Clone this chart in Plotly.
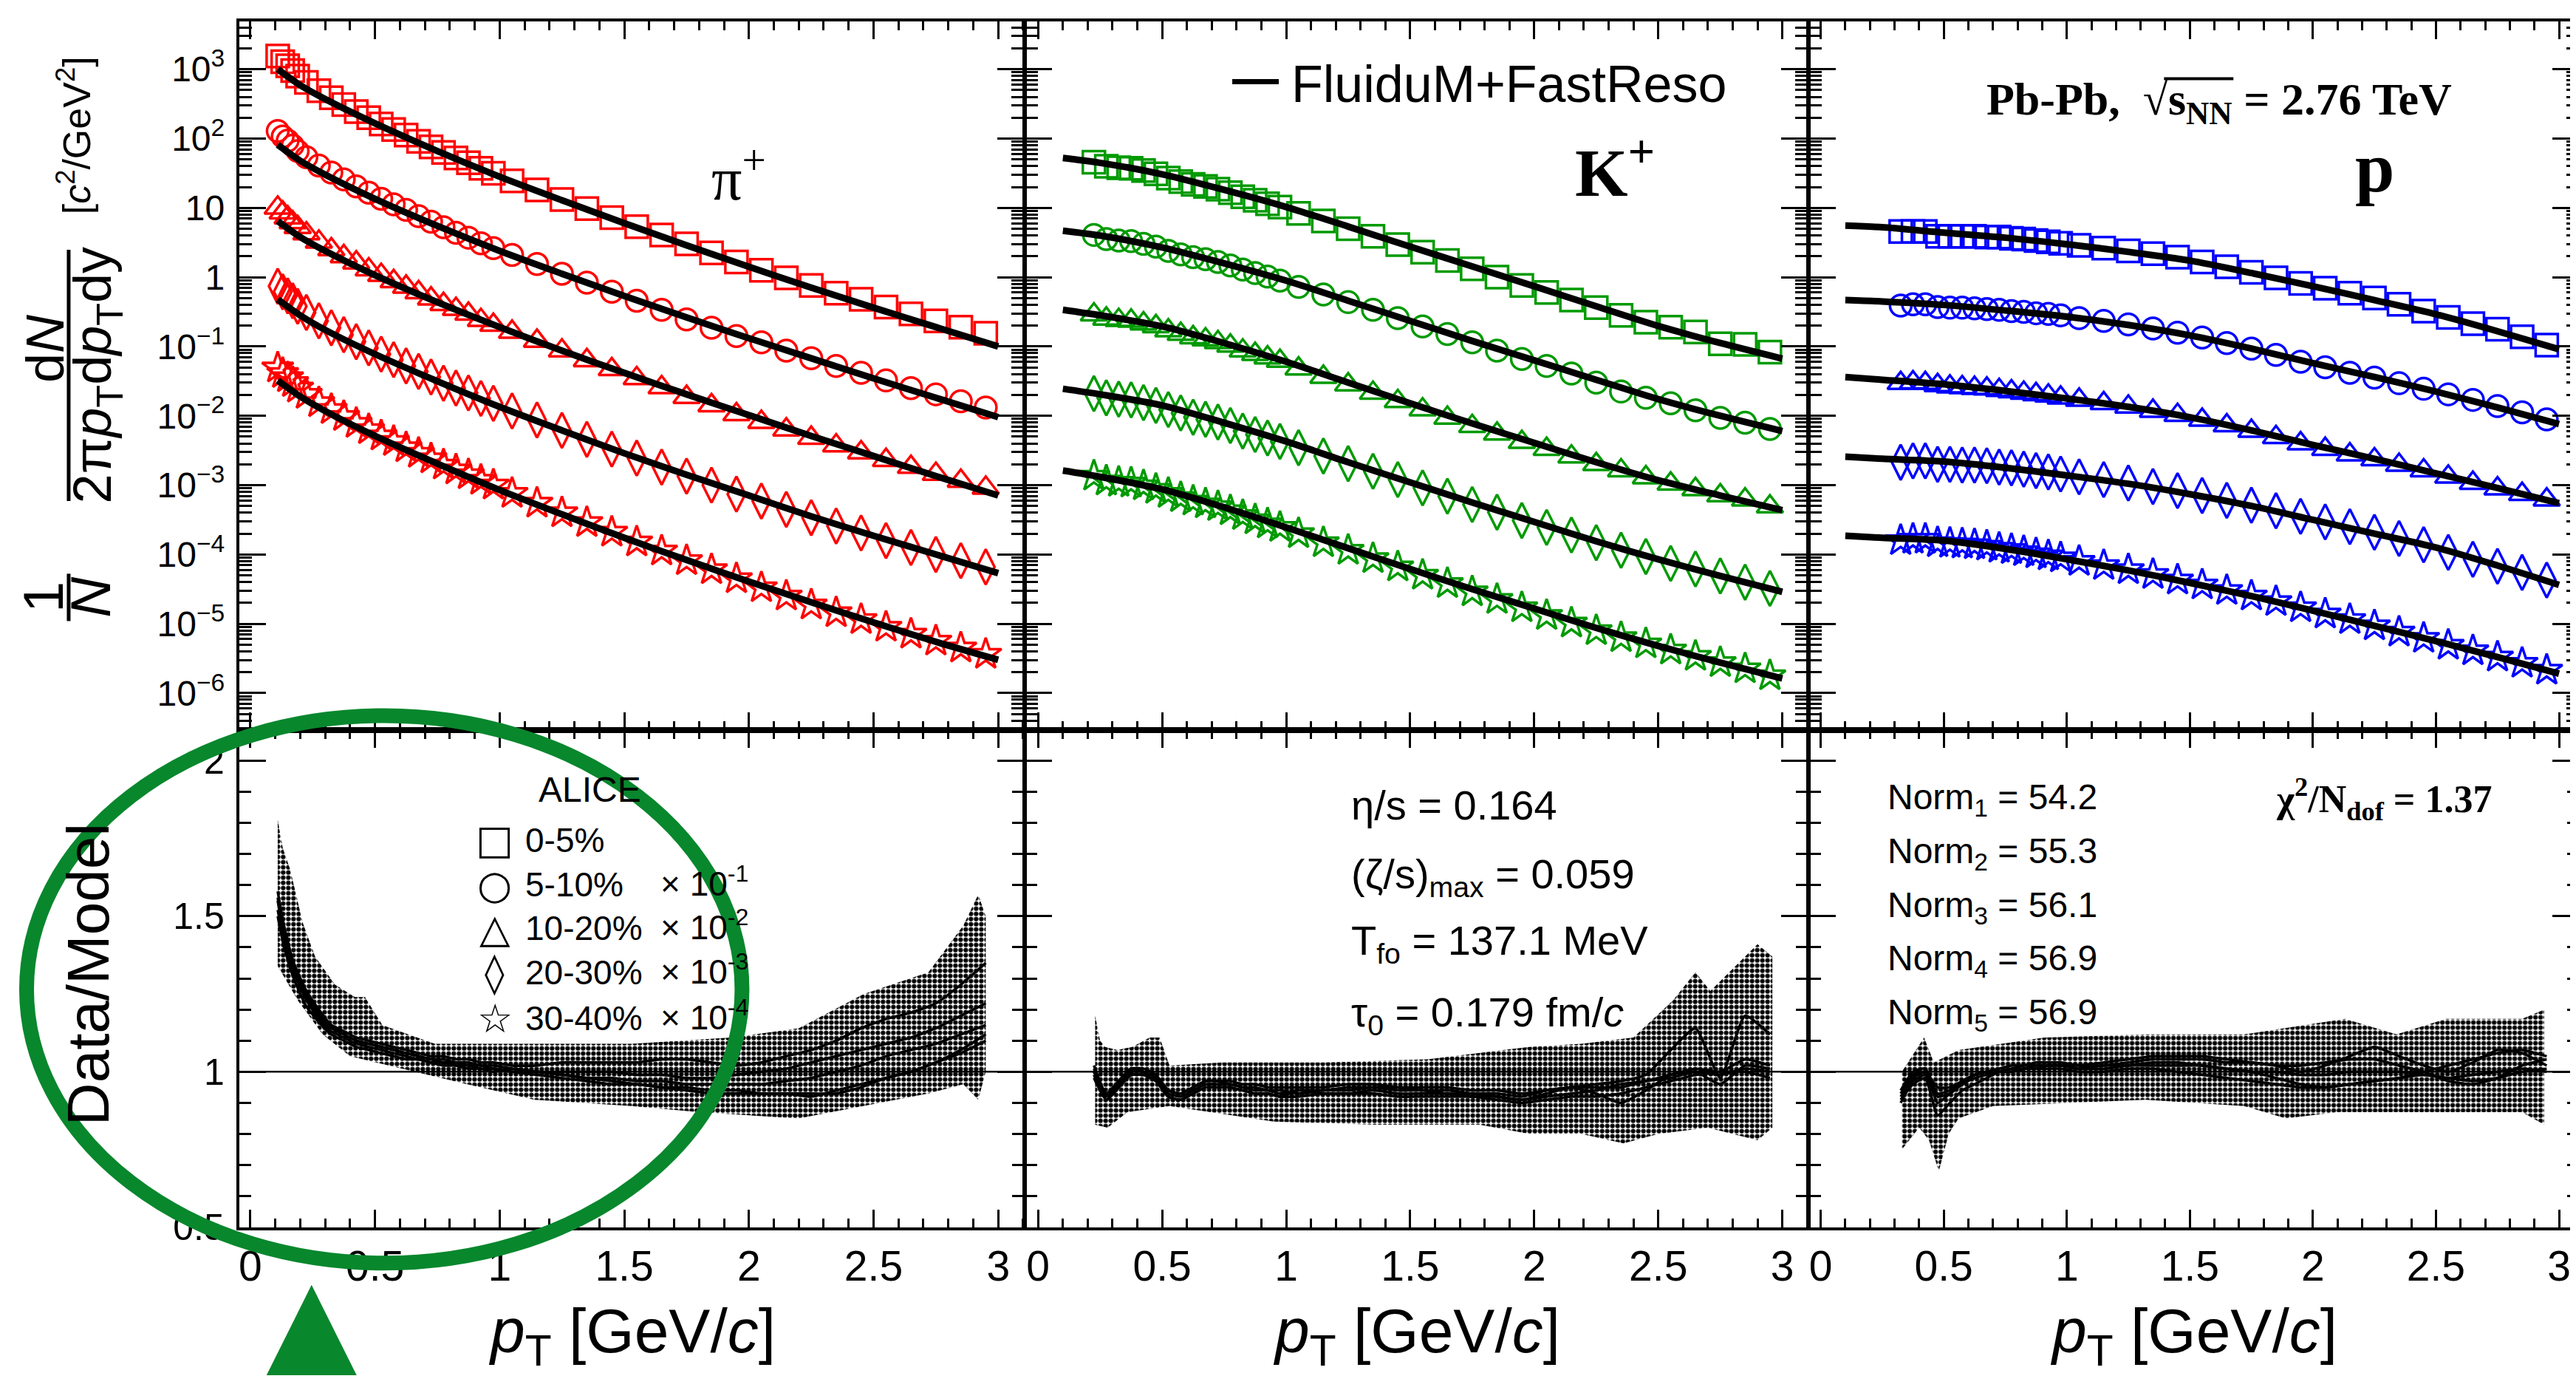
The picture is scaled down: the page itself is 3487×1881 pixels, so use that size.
import plotly.graph_objects as go

W, H = 3487, 1881
def PX(x): return x / W
def PY(y): return 1 - y / H

# ---------------- data (log10 of invariant yield) ----------------
pi_pt = [0.11,0.13,0.15,0.17,0.19,0.225,0.275,0.325,0.375,0.425,0.475,0.525,0.575,0.625,0.675,0.725,0.775,0.825,0.875,0.925,0.975,
         1.05,1.15,1.25,1.35,1.45,1.55,1.65,1.75,1.85,1.95,2.05,2.15,2.25,2.35,2.45,2.55,2.65,2.75,2.85,2.95]
k_pt = [0.225,0.275,0.325,0.375,0.425,0.475,0.525,0.575,0.625,0.675,0.725,0.775,0.825,0.875,0.925,0.975,
        1.05,1.15,1.25,1.35,1.45,1.55,1.65,1.75,1.85,1.95,2.05,2.15,2.25,2.35,2.45,2.55,2.65,2.75,2.85,2.95]
p_pt = [0.325,0.375,0.425,0.475,0.525,0.575,0.625,0.675,0.725,0.775,0.825,0.875,0.925,0.975,
        1.05,1.15,1.25,1.35,1.45,1.55,1.65,1.75,1.85,1.95,2.05,2.15,2.25,2.35,2.45,2.55,2.65,2.75,2.85,2.95]

pi_d1 = [3.19,3.11,3.05,2.98,2.90,2.81,2.69,2.59,2.49,2.39,2.30,2.21,2.13,2.05,1.96,1.88,1.80,1.72,1.65,1.57,1.50,1.39,1.26,1.12,0.99,0.86,0.73,0.61,0.48,0.35,0.22,0.10,-0.01,-0.12,-0.23,-0.32,-0.43,-0.53,-0.63,-0.72,-0.81]
pi_d2 = [2.11,2.03,1.97,1.90,1.82,1.73,1.61,1.51,1.41,1.31,1.22,1.13,1.05,0.97,0.88,0.80,0.72,0.64,0.57,0.49,0.42,0.32,0.19,0.05,-0.08,-0.21,-0.34,-0.47,-0.61,-0.73,-0.85,-0.94,-1.06,-1.17,-1.28,-1.38,-1.49,-1.60,-1.69,-1.79,-1.88]
pi_d3 = [1.00,0.93,0.86,0.79,0.72,0.63,0.51,0.40,0.30,0.21,0.11,0.03,-0.06,-0.14,-0.22,-0.31,-0.39,-0.46,-0.53,-0.62,-0.69,-0.79,-0.92,-1.06,-1.20,-1.33,-1.46,-1.59,-1.73,-1.85,-1.98,-2.09,-2.20,-2.32,-2.43,-2.53,-2.64,-2.74,-2.84,-2.94,-3.04]
pi_d4 = [-0.13,-0.21,-0.27,-0.34,-0.42,-0.51,-0.63,-0.73,-0.83,-0.93,-1.02,-1.11,-1.19,-1.28,-1.36,-1.44,-1.53,-1.60,-1.67,-1.75,-1.82,-1.93,-2.06,-2.21,-2.34,-2.48,-2.61,-2.74,-2.87,-3.00,-3.13,-3.23,-3.35,-3.47,-3.59,-3.69,-3.80,-3.90,-4.00,-4.09,-4.18]
pi_d5 = [-1.31,-1.39,-1.45,-1.52,-1.60,-1.69,-1.81,-1.91,-2.01,-2.11,-2.20,-2.29,-2.37,-2.46,-2.54,-2.62,-2.71,-2.78,-2.85,-2.93,-3.00,-3.12,-3.26,-3.40,-3.54,-3.68,-3.82,-3.95,-4.09,-4.22,-4.35,-4.48,-4.60,-4.73,-4.84,-4.94,-5.05,-5.15,-5.25,-5.35,-5.44]

k_d1 = [1.66,1.60,1.58,1.57,1.54,1.49,1.43,1.38,1.34,1.31,1.27,1.22,1.16,1.11,1.06,1.01,0.92,0.81,0.70,0.59,0.47,0.36,0.24,0.12,0.00,-0.12,-0.22,-0.33,-0.44,-0.55,-0.65,-0.72,-0.79,-0.96,-0.97,-1.08]
k_d2 = [0.61,0.55,0.53,0.52,0.48,0.44,0.38,0.33,0.29,0.26,0.22,0.17,0.11,0.06,0.01,-0.05,-0.14,-0.25,-0.36,-0.47,-0.59,-0.71,-0.82,-0.94,-1.06,-1.18,-1.28,-1.39,-1.52,-1.65,-1.74,-1.82,-1.92,-2.03,-2.10,-2.19]
k_d3 = [-0.54,-0.60,-0.62,-0.63,-0.67,-0.71,-0.77,-0.82,-0.87,-0.90,-0.94,-0.99,-1.06,-1.11,-1.16,-1.21,-1.32,-1.44,-1.55,-1.67,-1.79,-1.91,-2.03,-2.15,-2.26,-2.38,-2.48,-2.59,-2.70,-2.79,-2.89,-2.98,-3.06,-3.15,-3.21,-3.31]
k_d4 = [-1.68,-1.74,-1.76,-1.77,-1.81,-1.85,-1.91,-1.96,-2.02,-2.05,-2.09,-2.14,-2.22,-2.27,-2.32,-2.37,-2.46,-2.58,-2.69,-2.80,-2.92,-3.04,-3.16,-3.28,-3.39,-3.51,-3.61,-3.72,-3.83,-3.94,-4.03,-4.13,-4.21,-4.31,-4.40,-4.49]
k_d5 = [-2.87,-2.94,-2.96,-2.97,-3.01,-3.06,-3.12,-3.18,-3.23,-3.27,-3.31,-3.37,-3.44,-3.50,-3.56,-3.61,-3.70,-3.83,-3.94,-4.06,-4.18,-4.30,-4.42,-4.54,-4.65,-4.77,-4.88,-4.99,-5.10,-5.20,-5.29,-5.38,-5.47,-5.56,-5.65,-5.75]

p_d1 = [0.66,0.66,0.66,0.59,0.59,0.59,0.59,0.58,0.58,0.56,0.55,0.53,0.51,0.49,0.46,0.42,0.38,0.34,0.29,0.22,0.15,0.07,-0.01,-0.09,-0.16,-0.23,-0.30,-0.39,-0.49,-0.58,-0.67,-0.75,-0.86,-0.98]
p_d2 = [-0.41,-0.39,-0.39,-0.43,-0.44,-0.44,-0.45,-0.46,-0.47,-0.49,-0.50,-0.52,-0.53,-0.55,-0.59,-0.63,-0.68,-0.74,-0.80,-0.87,-0.95,-1.03,-1.12,-1.22,-1.30,-1.38,-1.45,-1.53,-1.61,-1.69,-1.77,-1.86,-1.95,-2.05]
p_d3 = [-1.53,-1.52,-1.53,-1.56,-1.58,-1.59,-1.60,-1.61,-1.63,-1.65,-1.67,-1.69,-1.71,-1.74,-1.77,-1.82,-1.87,-1.93,-1.99,-2.06,-2.14,-2.22,-2.31,-2.40,-2.48,-2.56,-2.63,-2.71,-2.79,-2.88,-2.97,-3.05,-3.13,-3.21]
p_d4 = [-2.67,-2.65,-2.65,-2.70,-2.70,-2.71,-2.71,-2.72,-2.74,-2.75,-2.77,-2.79,-2.81,-2.84,-2.88,-2.92,-2.97,-3.02,-3.08,-3.15,-3.22,-3.29,-3.37,-3.45,-3.53,-3.60,-3.68,-3.77,-3.86,-3.97,-4.07,-4.17,-4.26,-4.37]
p_d5 = [-3.80,-3.78,-3.78,-3.83,-3.84,-3.85,-3.86,-3.88,-3.91,-3.93,-3.96,-3.99,-4.02,-4.05,-4.10,-4.16,-4.22,-4.29,-4.37,-4.44,-4.52,-4.60,-4.68,-4.77,-4.86,-4.94,-5.03,-5.12,-5.21,-5.31,-5.39,-5.48,-5.57,-5.67]

# model curves (FluiduM+FastReso), log10 values at knots
pi_mpt = [0.11,0.2,0.3,0.5,0.75,1.0,1.25,1.5,1.75,2.0,2.25,2.5,2.75,3.0]
pi_m1 = [3.0,2.77,2.57,2.22,1.82,1.45,1.11,0.78,0.46,0.15,-0.15,-0.44,-0.72,-1.0]
pi_m2 = [1.91,1.68,1.48,1.13,0.74,0.38,0.05,-0.27,-0.58,-0.88,-1.17,-1.46,-1.74,-2.02]
pi_m3 = [0.81,0.58,0.38,0.03,-0.36,-0.72,-1.06,-1.38,-1.69,-1.99,-2.29,-2.58,-2.87,-3.15]
pi_m4 = [-0.32,-0.55,-0.76,-1.11,-1.50,-1.87,-2.21,-2.54,-2.85,-3.15,-3.45,-3.73,-4.00,-4.27]
pi_m5 = [-1.49,-1.72,-1.93,-2.29,-2.69,-3.07,-3.42,-3.76,-4.08,-4.39,-4.69,-4.98,-5.26,-5.52]

kp_mpt = [0.1,0.25,0.5,0.75,1.0,1.25,1.5,1.75,2.0,2.25,2.5,2.75,3.0]
k_m1 = [1.72,1.65,1.485,1.26,1.013,0.73,0.441,0.155,-0.131,-0.42,-0.704,-0.95,-1.175]
k_m2 = [0.67,0.60,0.43,0.20,-0.05,-0.34,-0.63,-0.92,-1.20,-1.48,-1.76,-2.0,-2.22]
k_m3 = [-0.47,-0.55,-0.71,-0.95,-1.22,-1.52,-1.82,-2.11,-2.39,-2.67,-2.93,-3.15,-3.36]
k_m4 = [-1.61,-1.69,-1.85,-2.10,-2.37,-2.67,-2.96,-3.25,-3.53,-3.81,-4.07,-4.31,-4.54]
k_m5 = [-2.79,-2.88,-3.06,-3.32,-3.61,-3.91,-4.21,-4.50,-4.78,-5.06,-5.32,-5.56,-5.79]

p_m1 = [0.744,0.72,0.643,0.57,0.475,0.365,0.239,0.06,-0.131,-0.33,-0.535,-0.78,-1.04]
p_m2 = [-0.33,-0.35,-0.40,-0.48,-0.57,-0.69,-0.84,-1.03,-1.24,-1.44,-1.65,-1.88,-2.12]
p_m3 = [-1.44,-1.48,-1.545,-1.64,-1.75,-1.87,-2.02,-2.21,-2.42,-2.62,-2.83,-3.04,-3.26]
p_m4 = [-2.59,-2.62,-2.66,-2.75,-2.86,-2.98,-3.13,-3.30,-3.50,-3.70,-3.90,-4.16,-4.44]
p_m5 = [-3.73,-3.76,-3.80,-3.92,-4.07,-4.23,-4.41,-4.60,-4.81,-5.03,-5.25,-5.48,-5.72]

# Data/Model ratios
pi_r1 = [1.58,1.49,1.42,1.36,1.32,1.26,1.20,1.15,1.13,1.11,1.10,1.09,1.08,1.07,1.06,1.05,1.05,1.04,1.04,1.03,1.03,1.02,1.02,1.03,1.03,1.03,1.03,1.04,1.04,1.03,1.02,1.03,1.05,1.07,1.10,1.14,1.17,1.19,1.22,1.28,1.35]
pi_r2 = [1.56,1.47,1.41,1.35,1.31,1.25,1.19,1.15,1.12,1.10,1.09,1.08,1.07,1.06,1.05,1.04,1.04,1.03,1.03,1.02,1.02,1.01,1.0,1.0,1.0,1.0,0.99,0.99,0.98,0.98,0.99,1.0,1.01,1.03,1.05,1.07,1.09,1.11,1.14,1.18,1.22]
pi_r3 = [1.55,1.46,1.40,1.34,1.30,1.24,1.18,1.14,1.12,1.10,1.09,1.08,1.07,1.06,1.05,1.04,1.03,1.03,1.02,1.02,1.01,1.0,1.0,0.99,0.98,0.98,0.97,0.97,0.96,0.96,0.96,0.96,0.97,0.98,1.0,1.02,1.05,1.07,1.09,1.12,1.15]
pi_r4 = [1.52,1.44,1.38,1.33,1.29,1.23,1.17,1.13,1.11,1.09,1.08,1.07,1.06,1.05,1.04,1.03,1.03,1.02,1.02,1.01,1.01,1.0,0.99,0.98,0.97,0.96,0.96,0.95,0.95,0.94,0.94,0.93,0.93,0.93,0.93,0.95,0.98,1.0,1.03,1.07,1.12]
pi_r5 = [1.50,1.42,1.36,1.31,1.27,1.21,1.16,1.12,1.10,1.08,1.07,1.06,1.05,1.04,1.04,1.03,1.02,1.02,1.01,1.01,1.00,1.01,1.0,0.99,0.98,0.97,0.96,0.95,0.94,0.93,0.93,0.93,0.93,0.92,0.94,0.96,0.98,1.0,1.03,1.06,1.10]

k_r1 = [1.02,0.93,0.97,1.01,1.01,0.99,0.94,0.93,0.95,0.97,0.97,0.96,0.95,0.95,0.94,0.94,0.93,0.94,0.94,0.95,0.94,0.94,0.93,0.93,0.92,0.91,0.93,0.95,0.96,0.97,0.99,1.07,1.14,0.98,1.18,1.12]
k_r2 = [1.0,0.92,0.96,1.0,1.0,0.98,0.93,0.92,0.94,0.96,0.96,0.96,0.95,0.94,0.94,0.93,0.94,0.94,0.95,0.95,0.95,0.94,0.94,0.93,0.93,0.92,0.94,0.95,0.93,0.90,0.94,0.99,1.0,0.96,1.02,1.01]
k_r3 = [0.98,0.91,0.95,0.99,0.99,0.97,0.92,0.91,0.93,0.95,0.95,0.95,0.94,0.93,0.93,0.92,0.92,0.93,0.93,0.94,0.93,0.93,0.93,0.92,0.92,0.91,0.92,0.93,0.94,0.96,0.97,0.99,1.01,1.0,1.04,1.02]
k_r4 = [1.01,0.93,0.97,1.01,1.0,0.98,0.94,0.93,0.95,0.97,0.97,0.97,0.96,0.96,0.95,0.95,0.95,0.95,0.96,0.96,0.95,0.95,0.95,0.94,0.94,0.93,0.94,0.95,0.95,0.95,0.97,0.98,1.0,0.99,1.01,1.0]
k_r5 = [0.99,0.91,0.95,0.99,0.99,0.97,0.92,0.91,0.93,0.95,0.95,0.95,0.94,0.93,0.93,0.92,0.94,0.93,0.93,0.93,0.92,0.92,0.92,0.92,0.91,0.90,0.91,0.92,0.92,0.93,0.95,0.97,0.99,1.0,1.0,0.98]

p_r1 = [0.91,0.96,0.98,0.86,0.90,0.94,0.96,0.98,1.0,1.0,1.01,1.01,1.02,1.02,1.02,1.03,1.04,1.05,1.05,1.05,1.04,1.03,1.02,1.0,1.02,1.05,1.08,1.05,1.02,1.0,1.03,1.07,1.06,1.02]
p_r2 = [0.90,0.97,0.99,0.92,0.93,0.96,0.98,0.99,1.0,1.01,1.02,1.02,1.02,1.02,1.01,1.02,1.02,1.03,1.03,1.02,1.01,1.0,0.98,0.96,0.95,0.96,0.97,0.98,1.0,1.02,1.04,1.06,1.07,1.05]
p_r3 = [0.93,0.99,1.0,0.95,0.95,0.97,0.99,1.0,1.0,1.0,1.01,1.01,1.01,1.01,1.0,1.0,1.01,1.01,1.0,0.99,0.98,0.97,0.96,0.95,0.95,0.96,0.97,0.98,0.99,0.98,0.97,0.98,1.0,1.01]
p_r4 = [0.92,0.98,1.0,0.90,0.93,0.96,0.99,1.0,1.01,1.02,1.02,1.03,1.03,1.03,1.02,1.02,1.03,1.04,1.04,1.04,1.03,1.03,1.02,1.02,1.03,1.04,1.04,1.02,1.0,0.97,0.96,0.98,1.02,1.04]
p_r5 = [0.94,1.0,1.01,0.93,0.94,0.97,0.99,1.0,1.0,1.01,1.01,1.02,1.02,1.02,1.01,1.01,1.02,1.02,1.02,1.02,1.01,1.0,1.0,0.99,0.99,1.0,1.0,1.0,0.99,0.98,0.99,1.0,1.01,1.0]

# uncertainty bands of the ratio (upper / lower envelopes)
pi_bu_x = [0.11,0.13,0.16,0.21,0.26,0.34,0.42,0.46,0.53,0.74,1.14,1.53,1.93,2.2,2.46,2.72,2.86,2.92,2.95]
pi_bu_y = [1.81,1.72,1.65,1.48,1.37,1.28,1.24,1.24,1.15,1.09,1.09,1.09,1.11,1.14,1.25,1.32,1.47,1.57,1.50]
pi_bl_x = [0.11,0.19,0.29,0.40,0.61,0.87,1.14,1.53,1.8,2.2,2.46,2.72,2.86,2.92,2.95]
pi_bl_y = [1.34,1.23,1.12,1.05,1.01,0.96,0.91,0.89,0.87,0.85,0.89,0.93,0.96,0.91,1.0]
k_bu_x = [0.23,0.25,0.27,0.32,0.38,0.45,0.49,0.53,0.74,1.15,1.57,1.98,2.19,2.4,2.56,2.65,2.71,2.81,2.9,2.96]
k_bu_y = [1.18,1.10,1.08,1.07,1.08,1.11,1.11,1.02,1.03,1.03,1.04,1.08,1.09,1.11,1.23,1.32,1.26,1.34,1.41,1.37]
k_bl_x = [0.23,0.28,0.36,0.53,0.95,1.36,1.78,1.98,2.19,2.36,2.5,2.7,2.9,2.96]
k_bl_y = [0.83,0.82,0.87,0.89,0.84,0.83,0.83,0.80,0.80,0.77,0.80,0.82,0.78,0.82]
p_bu_x = [0.33,0.38,0.42,0.46,0.56,0.91,1.32,1.72,2.13,2.34,2.54,2.85,2.94]
p_bu_y = [1.0,1.06,1.11,1.03,1.07,1.11,1.12,1.12,1.17,1.12,1.17,1.17,1.2]
p_bl_x = [0.33,0.40,0.44,0.48,0.52,0.56,0.7,1.0,1.32,1.72,1.89,2.1,2.5,2.85,2.94]
p_bl_y = [0.75,0.82,0.78,0.68,0.80,0.85,0.89,0.90,0.91,0.89,0.85,0.87,0.87,0.87,0.83]

centralities = ["0-5%", "5-10%", "10-20%", "20-30%", "30-40%"]
scale_labels = ["", "× 10<sup>-1</sup>", "× 10<sup>-2</sup>", "× 10<sup>-3</sup>", "× 10<sup>-4</sup>"]
norm_vals = ["54.2", "55.3", "56.1", "56.9", "56.9"]
log_tick_vals = [1e-6, 1e-5, 1e-4, 1e-3, 1e-2, 1e-1, 1, 10, 100, 1000]
log_tick_text = ["10<sup>−6</sup>", "10<sup>−5</sup>", "10<sup>−4</sup>", "10<sup>−3</sup>", "10<sup>−2</sup>",
                 "10<sup>−1</sup>", "1", "10", "10<sup>2</sup>", "10<sup>3</sup>"]

species = [
    dict(pt=pi_pt, data=[pi_d1, pi_d2, pi_d3, pi_d4, pi_d5], mpt=pi_mpt, model=[pi_m1, pi_m2, pi_m3, pi_m4, pi_m5],
         ratio=[pi_r1, pi_r2, pi_r3, pi_r4, pi_r5], bu=(pi_bu_x, pi_bu_y), bl=(pi_bl_x, pi_bl_y), color="#ff0000"),
    dict(pt=k_pt, data=[k_d1, k_d2, k_d3, k_d4, k_d5], mpt=kp_mpt, model=[k_m1, k_m2, k_m3, k_m4, k_m5],
         ratio=[k_r1, k_r2, k_r3, k_r4, k_r5], bu=(k_bu_x, k_bu_y), bl=(k_bl_x, k_bl_y), color="#009a00"),
    dict(pt=p_pt, data=[p_d1, p_d2, p_d3, p_d4, p_d5], mpt=kp_mpt, model=[p_m1, p_m2, p_m3, p_m4, p_m5],
         ratio=[p_r1, p_r2, p_r3, p_r4, p_r5], bu=(p_bu_x, p_bu_y), bl=(p_bl_x, p_bl_y), color="#0000ff"),
]
symbols = ["square-open", "circle-open", "triangle-up-open", "diamond-tall-open", "star-open"]
msizes = [30, 29, 31, 34, 32]

# ---------------- layout geometry (pixels) ----------------
frames = [(315, 1378), (1380, 2439), (2441, 3484)]
x_zero = [330, 1397, 2457]
x_three = [1343, 2405, 3457]
TOP = (21, 995)
BOT = (995, 1678)

FONT = "Liberation Sans"
SERIF = "Liberation Serif"

fig = go.Figure()

for i, sp in enumerate(species):
    xt = "x" + ("" if i == 0 else str(i + 1))
    yt = "y" + ("" if i == 0 else str(i + 1))
    xb = "x" + str(i + 4)
    yb = "y" + str(i + 4)
    for k in range(5):
        fig.add_trace(go.Scatter(
            x=sp["pt"], y=[10 ** v for v in sp["data"][k]], mode="markers", xaxis=xt, yaxis=yt,
            marker=dict(symbol=symbols[k], size=msizes[k], color=sp["color"],
                        line=dict(width=3.5, color=sp["color"])),
            name=centralities[k], showlegend=False))
    for k in range(5):
        fig.add_trace(go.Scatter(
            x=sp["mpt"], y=[10 ** v for v in sp["model"][k]], mode="lines", xaxis=xt, yaxis=yt,
            line=dict(color="black", width=9, shape="spline", smoothing=0.8),
            name="FluiduM+FastReso", showlegend=False))
    bx = list(sp["bu"][0]) + list(sp["bl"][0])[::-1]
    by = list(sp["bu"][1]) + list(sp["bl"][1])[::-1]
    fig.add_trace(go.Scatter(
        x=bx, y=by, mode="lines", fill="toself", xaxis=xb, yaxis=yb,
        line=dict(width=0, color="rgba(0,0,0,0)"),
        fillcolor="white",
        fillpattern=dict(shape=".", size=7, solidity=0.62, fgcolor="black", bgcolor="white", fillmode="replace"),
        showlegend=False, hoverinfo="skip"))
    for k in range(5):
        fig.add_trace(go.Scatter(
            x=sp["pt"], y=sp["ratio"][k], mode="lines", xaxis=xb, yaxis=yb,
            line=dict(color="black", width=3.5, shape="spline", smoothing=0.5),
            showlegend=False))

layout = dict(width=W, height=H, margin=dict(l=0, r=0, t=0, b=0), autosize=False,
              paper_bgcolor="white", plot_bgcolor="white", showlegend=False)

common_axis = dict(showline=True, linecolor="black", linewidth=4, mirror="allticks", ticks="inside",
                   tickcolor="black", tickwidth=3, showgrid=False, zeroline=False)

minor_log_vals = [m * 10 ** e for e in range(-7, 4) for m in range(2, 10)]

for i in range(3):
    f0, f1 = frames[i]
    s = (x_three[i] - x_zero[i]) / 3.0
    xr = [(f0 - x_zero[i]) / s, (f1 - x_zero[i]) / s]
    dom = [PX(f0), PX(f1)]
    sfx_t = "" if i == 0 else str(i + 1)
    sfx_b = str(i + 4)
    layout["xaxis" + sfx_t] = dict(common_axis, domain=dom, range=xr, anchor="y" + sfx_t,
                                   tickmode="linear", tick0=0, dtick=0.5, ticklen=24, showticklabels=False,
                                   minor=dict(ticks="inside", dtick=0.1, tick0=0, ticklen=12, tickwidth=3, tickcolor="black"))
    layout["xaxis" + sfx_b] = dict(common_axis, domain=dom, range=xr, anchor="y" + sfx_b,
                                   tickmode="linear", tick0=0, dtick=0.5, ticklen=24, showticklabels=True,
                                   tickfont=dict(family=FONT, size=57, color="black"),
                                   minor=dict(ticks="inside", dtick=0.1, tick0=0, ticklen=12, tickwidth=3, tickcolor="black"))
    layout["yaxis" + sfx_t] = dict(common_axis, type="log", domain=[PY(TOP[1]), PY(TOP[0])], range=[-6.536, 3.693],
                                   anchor="x" + sfx_t, tickmode="array", tickvals=log_tick_vals, ticktext=log_tick_text,
                                   ticklen=36, showticklabels=(i == 0), ticklabelstandoff=6,
                                   tickfont=dict(family=FONT, size=48, color="black"),
                                   minor=dict(ticks="inside", tickmode="array", tickvals=minor_log_vals, ticklen=17,
                                              tickwidth=3, tickcolor="black"))
    layout["yaxis" + sfx_b] = dict(common_axis, domain=[PY(BOT[1]), PY(BOT[0])], range=[0.4995, 2.098],
                                   anchor="x" + sfx_b, tickmode="linear", tick0=0.5, dtick=0.5, ticklen=36,
                                   showticklabels=(i == 0), ticklabelstandoff=6,
                                   tickfont=dict(family=FONT, size=50, color="black"),
                                   minor=dict(ticks="inside", dtick=0.1, tick0=0.5, ticklen=16, tickwidth=3, tickcolor="black"))

def ann(text, x, y, size, family=FONT, xanchor="left", yanchor="middle", angle=0):
    return dict(text=text, x=PX(x), y=PY(y), xref="paper", yref="paper", xanchor=xanchor, yanchor=yanchor,
                showarrow=False, textangle=angle, font=dict(size=size, family=family, color="black"))

annotations = []
for i in range(3):
    cx = (frames[i][0] + frames[i][1]) / 2
    annotations.append(ann("<i>p</i><sub>T</sub> [GeV/<i>c</i>]", cx, 1826, 84, xanchor="center"))
annotations.append(ann("Data/Model", 110, 1330, 80, xanchor="center", angle=-90))
annotations.append(ann("[<i>c</i><sup>2</sup>/GeV<sup>2</sup>]", 92, 178, 52, xanchor="center", angle=-90))
annotations.append(ann("d<i>N</i>", 52, 470, 72, xanchor="center", angle=-90))
annotations.append(ann("2π<i>p</i><sub>T</sub>d<i>p</i><sub>T</sub>dy", 122, 507, 72, xanchor="center", angle=-90))
annotations.append(ann("1", 50, 812, 76, xanchor="center", angle=-90))
annotations.append(ann("<i>N</i>", 114, 812, 76, xanchor="center", angle=-90))
annotations.append(ann("π<sup>+</sup>", 992, 232, 82, family=SERIF, xanchor="center"))
annotations.append(ann("<b>K<sup>+</sup></b>", 2178, 222, 92, family=SERIF, xanchor="center"))
annotations.append(ann("<b>p</b>", 3207, 222, 96, family=SERIF, xanchor="center"))
annotations.append(ann("FluiduM+FastReso", 1738, 108, 70))
annotations.append(ann("<b>Pb-Pb,  √s<sub>NN</sub> = 2.76 TeV</b>", 2680, 132, 62, family=SERIF))
annotations.append(ann("η/s = 0.164", 1819, 1098, 56))
annotations.append(ann("(ζ/s)<sub>max</sub> = 0.059", 1819, 1196, 56))
annotations.append(ann("T<sub>fo</sub> = 137.1 MeV", 1819, 1288, 56))
annotations.append(ann("τ<sub>0</sub> = 0.179 fm/<i>c</i>", 1819, 1386, 56))
for k in range(5):
    annotations.append(ann("Norm<sub>%d</sub> = %s" % (k + 1, norm_vals[k]), 2545, 1090 + 74 * k, 48))
annotations.append(ann("<b>χ<sup>2</sup>/N<sub>dof</sub> = 1.37</b>", 3072, 1090, 52, family=SERIF))
annotations.append(ann("ALICE", 790, 1077, 48, xanchor="center"))
legend_glyphs = ["□", "○", "△", "◊", "☆"]
row_y = [1146, 1207, 1267, 1328, 1391]
for k in range(5):
    annotations.append(ann(legend_glyphs[k], 661, row_y[k], 54, family="DejaVu Sans", xanchor="center"))
    annotations.append(ann(centralities[k], 700, row_y[k], 46))
    if scale_labels[k]:
        annotations.append(ann(scale_labels[k], 884, row_y[k] - 4, 46))
layout["annotations"] = annotations

green = "rgb(8,135,45)"
shapes = []
for i in range(3):
    shapes.append(dict(type="line", xref="x%d domain" % (i + 4), yref="y%d" % (i + 4), x0=0, x1=1, y0=1, y1=1,
                       line=dict(color="black", width=2.5), layer="above"))
shapes.append(dict(type="line", xref="paper", yref="paper", x0=PX(84), x1=PX(84), y0=PY(335), y1=PY(680),
                   line=dict(color="black", width=5)))
shapes.append(dict(type="line", xref="paper", yref="paper", x0=PX(84), x1=PX(84), y0=PY(780), y1=PY(845),
                   line=dict(color="black", width=5)))
shapes.append(dict(type="line", xref="paper", yref="paper", x0=PX(1660), x1=PX(1723), y0=PY(104), y1=PY(104),
                   line=dict(color="black", width=7)))
shapes.append(dict(type="line", xref="paper", yref="paper", x0=PX(2922), x1=PX(3016), y0=PY(100), y1=PY(100),
                   line=dict(color="black", width=4)))
shapes.append(dict(type="circle", xref="paper", yref="paper", x0=PX(27), x1=PX(996), y0=PY(1727), y1=PY(975),
                   line=dict(color=green, width=20), layer="above"))
shapes.append(dict(type="path", xref="paper", yref="paper",
                   path="M %f,%f L %f,%f L %f,%f Z" % (PX(413), PY(1757), PX(474), PY(1881), PX(352), PY(1881)),
                   fillcolor=green, line=dict(width=0), layer="above"))
layout["shapes"] = shapes

fig.update_layout(**layout)
fig.write_html("out.html")
